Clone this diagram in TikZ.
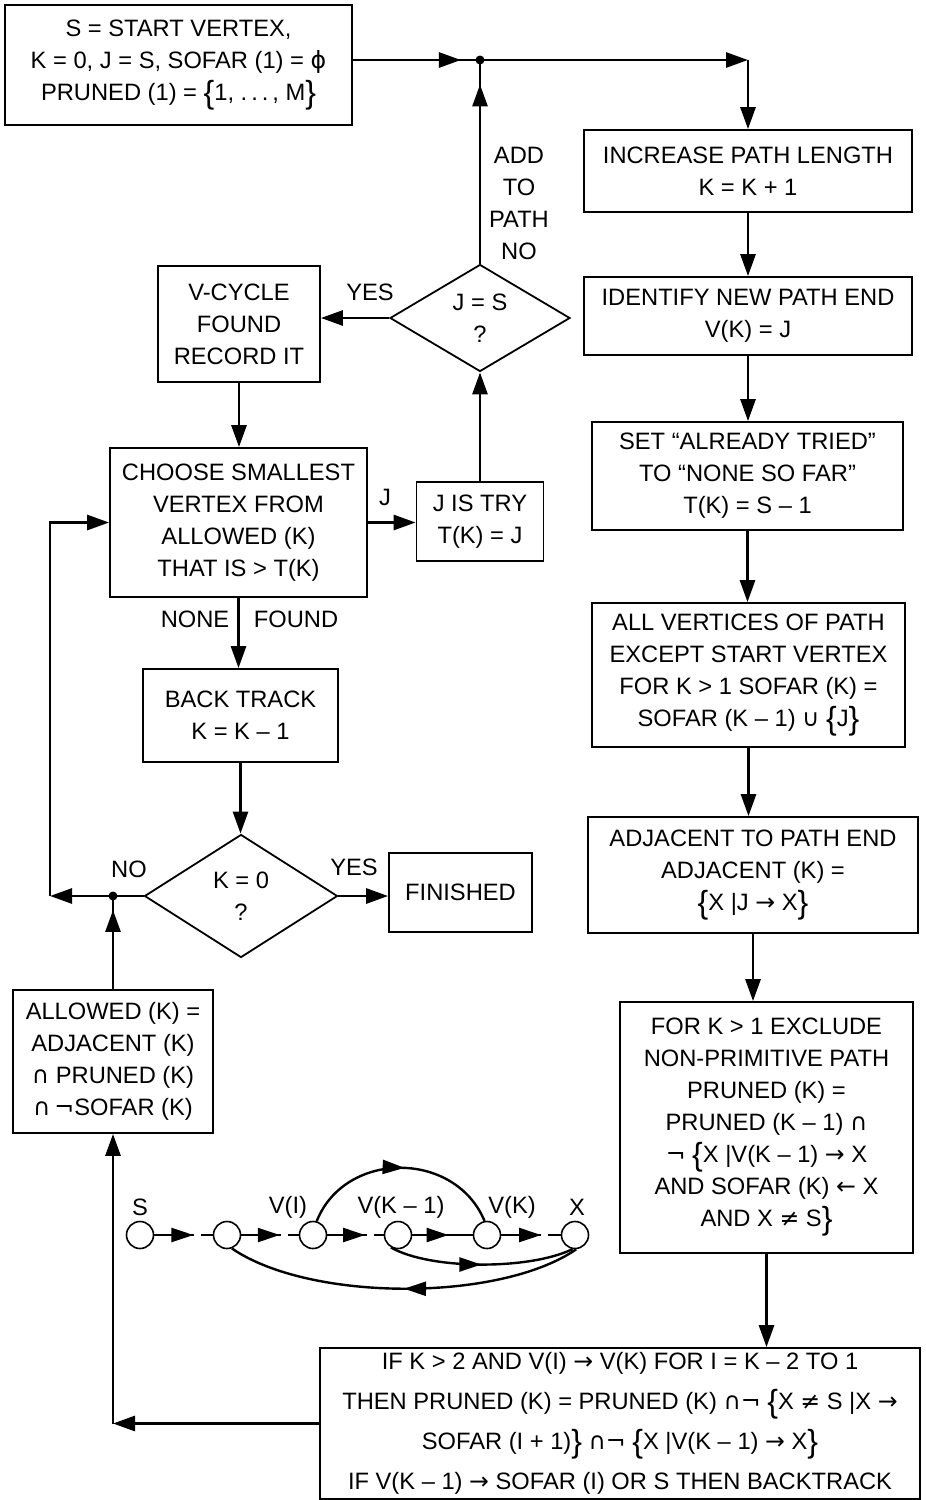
\documentclass[tikz,border=0pt]{standalone}
\usepackage{fontspec}
\setmainfont{Liberation Sans}
\newfontfamily\symf{DejaVu Sans}
\usepackage{tikz}
\usetikzlibrary{arrows.meta,shapes.geometric,decorations.markings}
\newcommand{\sbo}{\raisebox{-3pt}{\fontsize{32pt}{32pt}\selectfont\{}}
\newcommand{\sbc}{\raisebox{-3pt}{\fontsize{32pt}{32pt}\selectfont\}}}
\newcommand{\scap}{{\symf ∩}}
\newcommand{\scup}{{\symf ∪}}
\newcommand{\snot}{{\symf ¬}}
\newcommand{\sto}{{\symf →}}
\newcommand{\sfrom}{{\symf ←}}
\newcommand{\sneq}{{\symf ≠}}

\begin{document}
\begin{tikzpicture}[x=1pt,y=-1pt,font=\fontsize{23.7pt}{32pt}\selectfont,
  box/.style={draw,line width=1.8pt,align=center,inner sep=0pt},
  test/.style={diamond,draw,line width=1.8pt,align=center,inner sep=0pt,aspect=1.7},
  flow/.style={line width=2.8pt,-{Triangle[length=22pt,width=15pt]}},
  wire/.style={line width=2.8pt},
  midtip/.style={postaction={decorate},decoration={markings,mark=at position #1 with {\arrow{Triangle[length=22pt,width=15pt]}}}},
  lbl/.style={align=center,inner sep=0pt},
  vtx/.style={circle,draw,line width=1.6pt,minimum size=27pt,inner sep=0pt},
  gwire/.style={line width=2.4pt},
  gtip/.style={postaction={decorate},decoration={markings,mark=at position #1 with {\arrow{Triangle[length=22pt,width=14pt]}}}},
  broken/.style={dash pattern=on 40pt off 7pt on 40pt}]
\useasboundingbox (0,0) rectangle (926,1500);
\node[box,minimum width=347pt,minimum height=120pt] (start) at (178.5,65) {S = START VERTEX,\\K = 0, J = S, SOFAR (1) = {\symf ϕ}\\PRUNED (1) = \sbo 1, .\,.\,.\,, M\sbc};
\node[box,minimum width=328pt,minimum height=82pt] (inc) at (748,171) {INCREASE PATH LENGTH\\K = K + 1};
\node[box,minimum width=328pt,minimum height=78pt] (ident) at (748,316) {IDENTIFY NEW PATH END\\V(K) = J};
\node[box,minimum width=311pt,minimum height=108pt] (set) at (747.5,476) {SET ``ALREADY TRIED''\\TO ``NONE SO FAR''\\T(K) = S -- 1};
\node[box,minimum width=313pt,minimum height=144pt] (allv) at (748.5,675) {ALL VERTICES OF PATH\\EXCEPT START VERTEX\\FOR K > 1 SOFAR (K) =\\SOFAR (K -- 1) \scup\ \sbo J\sbc};
\node[box,minimum width=330pt,minimum height=116pt] (adj) at (753,875) {ADJACENT TO PATH END\\ADJACENT (K) =\\\sbo X |J \sto\ X\sbc};
\node[box,minimum width=293pt,minimum height=251pt] (forK) at (766.5,1127.5) {FOR K > 1 EXCLUDE\\NON-PRIMITIVE PATH\\PRUNED (K) =\\PRUNED (K -- 1) \scap\\\snot\ \sbo X |V(K -- 1) \sto\ X\\AND SOFAR (K) \sfrom\ X\\AND X \sneq\ S\sbc};
\node[box,font=\fontsize{23.7pt}{40pt}\selectfont,minimum width=600pt,minimum height=151pt] (bot) at (620,1423.5) {IF K > 2 AND V(I) \sto\ V(K) FOR I = K -- 2 TO 1\\THEN PRUNED (K) = PRUNED (K) \scap\snot\ \sbo X \sneq\ S |X \sto\\SOFAR (I + 1)\sbc\ \scap\snot\ \sbo X |V(K -- 1) \sto\ X\sbc\\IF V(K -- 1) \sto\ SOFAR (I) OR S THEN BACKTRACK};
\node[box,minimum width=162pt,minimum height=116pt] (vcyc) at (239,324) {V-CYCLE\\FOUND\\RECORD IT};
\node[test,minimum width=180pt,minimum height=107pt] (dJS) at (480,318) {J = S\\?};
\node[box,minimum width=257pt,minimum height=149pt] (choose) at (238.5,522.5) {CHOOSE SMALLEST\\VERTEX FROM\\ALLOWED (K)\\THAT IS > T(K)};
\node[box,minimum width=127pt,minimum height=79pt] (tryJ) at (480,521.5) {J IS TRY\\T(K) = J};
\node[box,minimum width=195pt,minimum height=93pt] (back) at (240.5,715.5) {BACK TRACK\\K = K -- 1};
\node[test,minimum width=193pt,minimum height=123pt] (dK0) at (241,896) {K = 0\\?};
\node[box,minimum width=143pt,minimum height=79pt] (fin) at (460.5,892.5) {FINISHED};
\node[box,minimum width=200pt,minimum height=143pt] (allow) at (113,1061.5) {ALLOWED (K) =\\ADJACENT (K)\\\scap\ PRUNED (K)\\\scap\,\snot SOFAR (K)};
\node[lbl] (lblAdd) at (519,203) {ADD\\TO\\PATH\\NO};
\node[lbl] (lblYes1) at (370,292) {YES};
\node[lbl] (lblJ) at (385,497) {J};
\node[lbl] (lblNone) at (195,619) {NONE};
\node[lbl] (lblFound) at (296,619) {FOUND};
\node[lbl] (lblNo) at (129,869) {NO};
\node[lbl] (lblYes2) at (354,867) {YES};
\coordinate (jn) at (480,60);
\coordinate (lc) at (50,896);
\coordinate (j2) at (allow.north |- dK0.west);
\coordinate (bc) at (allow.south |- bot.west);
\draw[wire,midtip=0.85] (start.east |- jn) -- (jn);
\draw[wire,midtip=0.88] (dJS.north) -- (jn);
\draw[flow] (jn) -- (inc.north |- jn);
\draw[flow] (inc.north |- jn) -- (inc.north);
\foreach \p/\q in {inc/ident,ident/set,set/allv,allv/adj,adj/forK,forK/bot}{\draw[flow] (\p.south) -- (\p.south |- \q.north);}
\draw[flow] (dJS.west) -- (dJS.west -| vcyc.east);
\draw[flow] (vcyc.south) -- (vcyc.south |- choose.north);
\draw[flow] (choose.east) -- (choose.east -| tryJ.west);
\draw[flow] (tryJ.north) -- (tryJ.north |- dJS.south);
\draw[flow] (choose.south) -- (choose.south |- back.north);
\draw[flow] (back.south) -- (back.south |- dK0.north);
\draw[flow] (dK0.east) -- (dK0.east -| fin.west);
\draw[flow] (dK0.west) -- (lc);
\draw[flow] (lc) |- (choose.west);
\draw[wire,midtip=0.85] (allow.north) -- (j2);
\draw[flow] (bot.west) -- (bc);
\draw[flow] (bc) -- (allow.south);
\fill (jn) circle (4.5);
\fill (j2) circle (4.5);
\foreach \i/\gx in {1/140,2/227,3/313,4/398,5/487,6/575}{\node[vtx] (g\i) at (\gx,1235) {};}
\node[lbl] (lS) at (140,1207) {S};
\node[lbl] (lVI) at (288,1207) {V(I)};
\node[lbl] (lVK1) at (401,1207) {V(K -- 1)};
\node[lbl] (lVK) at (512,1207) {V(K)};
\node[lbl] (lX) at (577,1207) {X};
\foreach \p/\q in {1/2,2/3,3/4,5/6}{\draw[gwire,broken,gtip=0.67] (g\p) -- (g\q);}
\draw[gwire,gtip=0.6] (g4) -- (g5);
\draw[gwire,gtip=0.52] (g3.75) .. controls (345,1150) and (455,1150) .. (g5.100);
\draw[gwire,gtip=0.5] (g4.240) .. controls (430,1270) and (530,1270) .. (g6.260);
\draw[gwire,gtip=0.5] (g6.275) .. controls (500,1302) and (310,1302) .. (g2.290);
\end{tikzpicture}
\end{document}
